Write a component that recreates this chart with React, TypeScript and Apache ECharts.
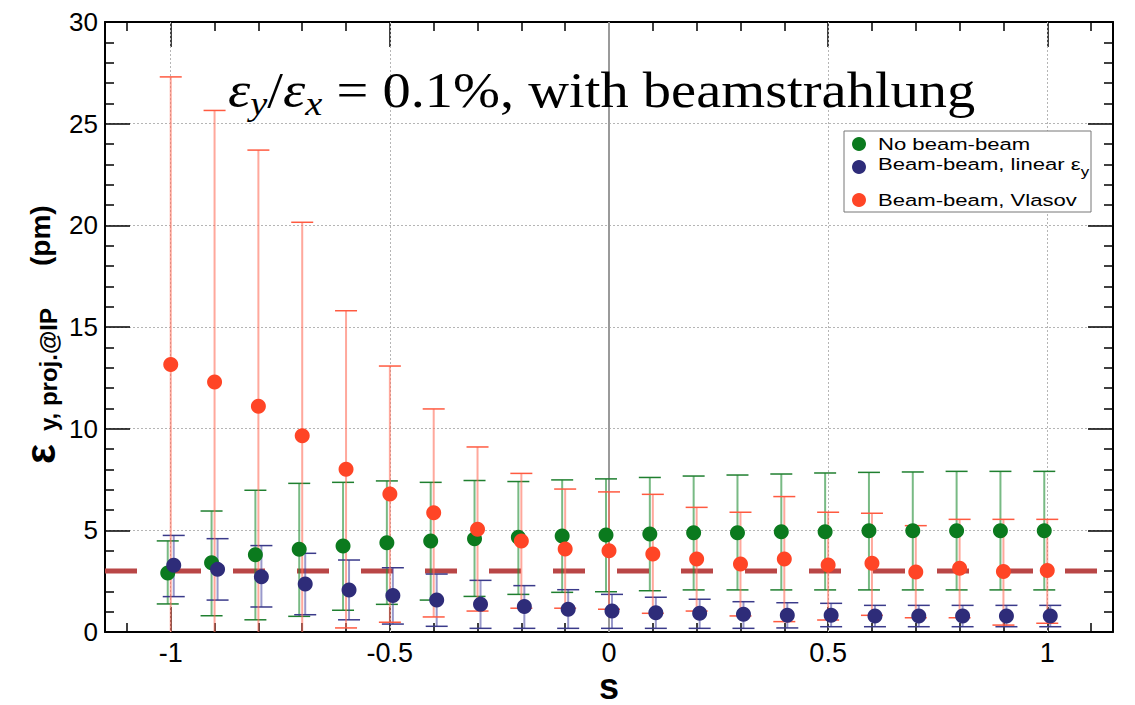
import React, { useEffect, useRef } from "react";
import * as echarts from "echarts";

const sValues = [-1, -0.9, -0.8, -0.7, -0.6, -0.5, -0.4, -0.3, -0.2, -0.1, 0, 0.1, 0.2, 0.3, 0.4, 0.5, 0.6, 0.7, 0.8, 0.9, 1];

const noBBCenter = [2.9, 3.41, 3.8, 4.07, 4.23, 4.39, 4.48, 4.58, 4.66, 4.72, 4.77, 4.82, 4.88, 4.88, 4.93, 4.93, 4.98, 4.98, 4.98, 4.98, 4.98];
const noBBHigh = [4.48, 5.95, 6.97, 7.31, 7.36, 7.43, 7.36, 7.45, 7.4, 7.48, 7.53, 7.6, 7.67, 7.72, 7.77, 7.82, 7.85, 7.87, 7.9, 7.9, 7.9];
const noBBLow = [1.38, 0.8, 0.6, 0.77, 1.07, 1.36, 1.57, 1.75, 1.85, 1.95, 1.98, 2.03, 2.07, 2.07, 2.07, 2.07, 2.07, 2.07, 2.07, 2.07, 2.07];

const linCenter = [3.28, 3.08, 2.72, 2.36, 2.07, 1.79, 1.57, 1.36, 1.25, 1.12, 1.03, 0.95, 0.92, 0.87, 0.82, 0.82, 0.79, 0.79, 0.79, 0.79, 0.79];
const linHigh = [4.75, 4.59, 4.25, 3.87, 3.54, 3.16, 2.85, 2.54, 2.28, 2.08, 1.85, 1.71, 1.61, 1.49, 1.44, 1.41, 1.31, 1.31, 1.31, 1.31, 1.31];
const linLow = [1.74, 1.57, 1.23, 0.85, 0.6, 0.39, 0.28, 0.18, 0.18, 0.18, 0.18, 0.18, 0.18, 0.18, 0.2, 0.26, 0.26, 0.26, 0.26, 0.26, 0.26];

const vlasovCenter = [13.15, 12.3, 11.1, 9.65, 8.0, 6.79, 5.87, 5.05, 4.48, 4.08, 4.0, 3.84, 3.59, 3.34, 3.59, 3.3, 3.38, 2.95, 3.13, 2.97, 3.02];
const vlasovHigh = [27.3, 25.65, 23.7, 20.15, 15.8, 13.08, 10.97, 9.1, 7.8, 7.03, 6.89, 6.77, 6.13, 5.89, 6.66, 5.89, 5.84, 5.23, 5.54, 5.54, 5.54];
const vlasovLow = [-1, -1, -1, -1, 0.2, 0.48, 0.74, 1.03, 1.17, 1.17, 1.12, 0.92, 1.03, 0.79, 0.51, 0.59, 0.82, 0.7, 0.7, 0.34, 0.43];

const referenceLevel = 3;
const xMajorTicks = [-1, -0.5, 0, 0.5, 1];
const xMinorTicks = [-1.1, -0.9, -0.8, -0.7, -0.6, -0.4, -0.3, -0.2, -0.1, 0.1, 0.2, 0.3, 0.4, 0.6, 0.7, 0.8, 0.9, 1.1];
const xGridLines = [-1, -0.5, 0.5, 1];

const SANS = "'Liberation Sans', Arial, sans-serif";
const SERIF = "'Liberation Serif', 'Times New Roman', serif";

const groups = [
  { name: "No beam-beam", center: noBBCenter, low: noBBLow, high: noBBHigh, color: "#0b7a1e", bar: "rgba(30,140,50,0.6)", cap: "#1f7f2f", off: -3 },
  { name: "Beam-beam, linear", center: linCenter, low: linLow, high: linHigh, color: "#2e2c79", bar: "rgba(70,70,160,0.55)", cap: "#3a3a8a", off: 3 },
  { name: "Beam-beam, Vlasov", center: vlasovCenter, low: vlasovLow, high: vlasovHigh, color: "#ff4526", bar: "rgba(255,110,90,0.6)", cap: "#ff5a40", off: 0 },
];

function makeErrorSeries(g: any) {
  return {
    type: "custom",
    name: g.name + " err",
    xAxisIndex: 0,
    yAxisIndex: 0,
    data: sValues.map((s, i) => [s, g.low[i], g.high[i]]),
    renderItem: (params: any, api: any) => {
      const cs = params.coordSys;
      const bottom = cs.y + cs.height;
      const top = cs.y;
      const pLo = api.coord([api.value(0), api.value(1)]);
      const pHi = api.coord([api.value(0), api.value(2)]);
      const x = pLo[0] + g.off;
      const yLo = Math.min(pLo[1], bottom);
      const yHi = Math.max(pHi[1], top);
      const children: any[] = [
        { type: "line", shape: { x1: x, y1: yLo, x2: x, y2: yHi }, style: { stroke: g.bar, lineWidth: 2 } },
      ];
      if (pHi[1] >= top) children.push({ type: "line", shape: { x1: x - 11, y1: pHi[1], x2: x + 11, y2: pHi[1] }, style: { stroke: g.cap, lineWidth: 1.5 } });
      if (pLo[1] <= bottom) children.push({ type: "line", shape: { x1: x - 11, y1: pLo[1], x2: x + 11, y2: pLo[1] }, style: { stroke: g.cap, lineWidth: 1.5 } });
      return { type: "group", children };
    },
    z: 3,
  };
}

function makePointSeries(g: any) {
  return {
    type: "scatter",
    name: g.name,
    xAxisIndex: 0,
    yAxisIndex: 0,
    data: sValues.map((s, i) => [s, g.center[i]]),
    symbol: "circle",
    symbolSize: 15,
    symbolOffset: [g.off, 0],
    itemStyle: { color: g.color, opacity: 1 },
    z: 3,
  };
}

const axisLineStyle = { color: "#000", width: 2 };
const tickStyle = { color: "#000", width: 1.5 };

export default function App() {
  const ref = useRef<HTMLDivElement>(null);
  useEffect(() => {
    if (!ref.current) return;
    const chart = echarts.init(ref.current, null, { renderer: "svg" });
    const xCommon = { type: "value", min: -1.15, max: 1.15, splitLine: { show: false } };
    const series: any[] = [
      {
        type: "line",
        name: "ref",
        xAxisIndex: 0,
        yAxisIndex: 0,
        data: [[-1.15, referenceLevel], [1.15, referenceLevel]],
        symbol: "none",
        lineStyle: { color: "#b94646", width: 5, type: [32, 32] },
        z: 2,
        markLine: {
          silent: true,
          symbol: "none",
          label: { show: false },
          data: [
            ...xGridLines.map((v) => ({ xAxis: v, lineStyle: { color: "#b5b5b5", width: 1, type: [2, 2] } })),
            { xAxis: 0, lineStyle: { color: "#9a9a9a", width: 2, type: "solid" } },
          ],
          z: 1,
        },
      },
    ];
    groups.forEach((g) => {
      series.push(makeErrorSeries(g));
      series.push(makePointSeries(g));
    });

    const option: any = {
      animation: false,
      backgroundColor: "#ffffff",
      grid: { left: 105, right: 22, top: 22, bottom: 73, show: false },
      xAxis: [
        {
          ...xCommon,
          position: "bottom",
          axisLine: { show: true, onZero: false, lineStyle: axisLineStyle },
          axisTick: { show: true, inside: true, length: 25, customValues: xMajorTicks, lineStyle: tickStyle },
          axisLabel: { show: true, customValues: xMajorTicks, fontFamily: SANS, fontSize: 27, color: "#000", margin: 7, formatter: (v: number) => String(v) },
        },
        {
          ...xCommon,
          position: "bottom",
          axisLine: { show: false, onZero: false },
          axisTick: { show: true, inside: true, length: 9, customValues: xMinorTicks, lineStyle: tickStyle },
          axisLabel: { show: false },
        },
        {
          ...xCommon,
          position: "top",
          axisLine: { show: true, onZero: false, lineStyle: axisLineStyle },
          axisTick: { show: true, inside: true, length: 25, customValues: xMajorTicks, lineStyle: tickStyle },
          axisLabel: { show: false },
        },
        {
          ...xCommon,
          position: "top",
          axisLine: { show: false, onZero: false },
          axisTick: { show: true, inside: true, length: 9, customValues: xMinorTicks, lineStyle: tickStyle },
          axisLabel: { show: false },
        },
      ],
      yAxis: [
        {
          type: "value",
          min: 0,
          max: 30,
          interval: 5,
          position: "left",
          axisLine: { show: true, onZero: false, lineStyle: axisLineStyle },
          axisTick: { show: true, inside: true, length: 25, lineStyle: tickStyle },
          minorTick: { show: true, splitNumber: 5, length: 9, lineStyle: tickStyle },
          axisLabel: { show: true, fontFamily: SANS, fontSize: 26, color: "#000", margin: 7 },
          splitLine: { show: true, lineStyle: { color: "#b5b5b5", width: 1, type: [2, 2] } },
        },
        {
          type: "value",
          min: 0,
          max: 30,
          interval: 5,
          position: "right",
          axisLine: { show: true, onZero: false, lineStyle: axisLineStyle },
          axisTick: { show: true, inside: true, length: 25, lineStyle: tickStyle },
          minorTick: { show: true, splitNumber: 5, length: 9, lineStyle: tickStyle },
          axisLabel: { show: false },
          splitLine: { show: false },
        },
      ],
      series,
      graphic: [
        {
          type: "text",
          x: 228,
          y: 90,
          scaleX: 1.13,
          z: 10,
          style: {
            text: "{e|ε}{s|y}{n|/}{e|ε}{s|x}{n| = 0.1%, with beamstrahlung}",
            textVerticalAlign: "middle",
            fill: "#000",
            rich: {
              e: { fontFamily: SERIF, fontStyle: "italic", fontSize: 50, fill: "#000" },
              s: { fontFamily: SERIF, fontStyle: "italic", fontSize: 34, fill: "#000", padding: [28, 0, 0, 0] },
              n: { fontFamily: SERIF, fontSize: 50, fill: "#000" },
            },
          },
        },
        {
          type: "rect",
          z: 10,
          shape: { x: 844, y: 131, width: 247, height: 81 },
          style: { fill: "#fff", stroke: "#777", lineWidth: 1 },
        },
        { type: "circle", z: 11, shape: { cx: 859, cy: 144, r: 7 }, style: { fill: groups[0].color } },
        { type: "circle", z: 11, shape: { cx: 859, cy: 167, r: 7 }, style: { fill: groups[1].color } },
        { type: "circle", z: 11, shape: { cx: 859, cy: 200, r: 7 }, style: { fill: groups[2].color } },
        {
          type: "text", z: 11, x: 878, y: 144, scaleX: 1.3,
          style: { text: "No beam-beam", font: `17px ${SANS}`, fill: "#000", textVerticalAlign: "middle" },
        },
        {
          type: "text", z: 11, x: 878, y: 164, scaleX: 1.3,
          style: {
            text: "{n|Beam-beam, linear ε}{s|y}",
            textVerticalAlign: "middle",
            rich: {
              n: { fontFamily: SANS, fontSize: 17, fill: "#000" },
              s: { fontFamily: SANS, fontSize: 13, fill: "#000", padding: [14, 0, 0, 0] },
            },
          },
        },
        {
          type: "text", z: 11, x: 878, y: 200, scaleX: 1.3,
          style: { text: "Beam-beam, Vlasov", font: `17px ${SANS}`, fill: "#000", textVerticalAlign: "middle" },
        },
        {
          type: "text", z: 10, x: 40, y: 464, rotation: Math.PI / 2,
          style: { text: "ε", font: `bold 42px ${SANS}`, fill: "#000", textAlign: "left", textVerticalAlign: "middle" },
        },
        {
          type: "text", z: 10, x: 48, y: 431, rotation: Math.PI / 2,
          style: { text: "y, proj.@IP", font: `bold 24px ${SANS}`, fill: "#000", textAlign: "left", textVerticalAlign: "middle" },
        },
        {
          type: "text", z: 10, x: 40, y: 266, rotation: Math.PI / 2,
          style: { text: "(pm)", font: `bold 28px ${SANS}`, fill: "#000", textAlign: "left", textVerticalAlign: "middle" },
        },
        {
          type: "text", z: 10, x: 609, y: 704,
          style: { text: "s", font: `bold 36px ${SANS}`, fill: "#000", textAlign: "center", textVerticalAlign: "bottom" },
        },
      ],
    };
    chart.setOption(option);
    return () => chart.dispose();
  }, []);
  return <div ref={ref} style={{ position: "absolute", left: 0, top: 0, width: 1135, height: 705 }} />;
}
